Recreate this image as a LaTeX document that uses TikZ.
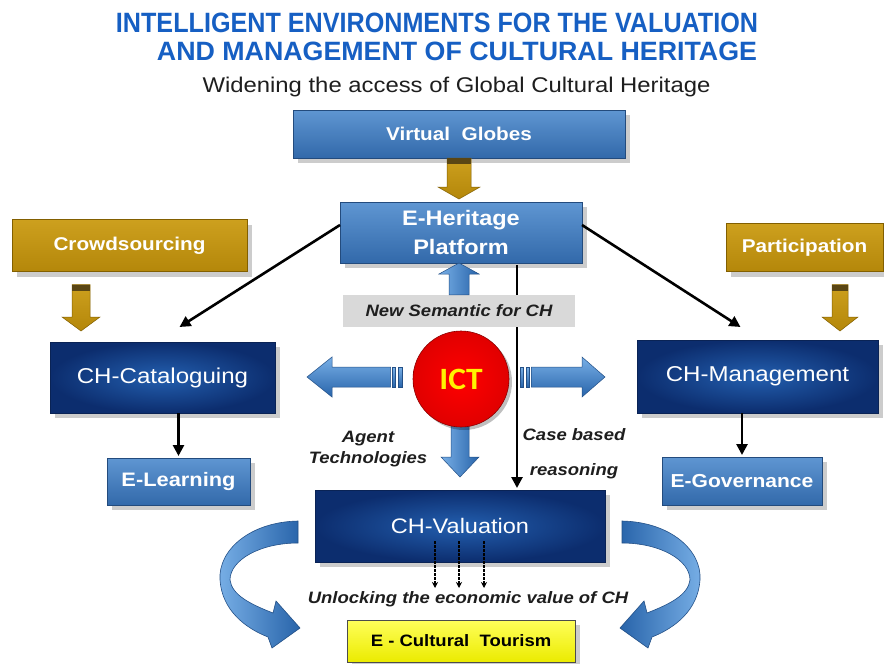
\documentclass[tikz,border=0pt]{standalone}
\usepackage{fontspec}
\usepackage{graphicx}
\setmainfont{Liberation Sans}[FakeStretch=1.12]
\newfontfamily\ictfont{Carlito}[FakeStretch=1.08]
\usetikzlibrary{shadows,calc,arrows.meta}
\definecolor{titleblue}{RGB}{22,95,195}
\definecolor{medtop}{RGB}{95,150,210}
\definecolor{medbot}{RGB}{50,105,170}
\definecolor{medline}{RGB}{35,75,125}
\definecolor{navyin}{RGB}{35,95,175}
\definecolor{navyout}{RGB}{12,45,110}
\definecolor{navyline}{RGB}{10,35,85}
\definecolor{goldtop}{RGB}{205,160,30}
\definecolor{goldbot}{RGB}{180,135,10}
\definecolor{goldline}{RGB}{130,95,0}
\definecolor{goldband}{RGB}{90,70,20}
\definecolor{blueA}{RGB}{120,175,230}
\definecolor{blueB}{RGB}{40,100,170}
\definecolor{blueline}{RGB}{35,80,135}
\definecolor{ytop}{RGB}{255,255,90}
\definecolor{ybot}{RGB}{235,235,0}
\definecolor{txtdark}{RGB}{30,30,30}
\pgfdeclarelayer{bgl}
\pgfdeclarelayer{back}
\pgfsetlayers{bgl,back,main}
\newcommand{\blockarrow}[6]{%
  \coordinate (bh) at ($(#3)!#6!(#2)$);
  \path[#1] ($(#2)!#4!90:(#3)$) -- ($(bh)!#4!90:(#3)$) -- ($(bh)!#5!90:(#3)$) -- (#3)
    -- ($(bh)!#5!-90:(#3)$) -- ($(bh)!#4!-90:(#3)$) -- ($(#2)!#4!-90:(#3)$) -- cycle;}
\newcommand{\arrowband}[4]{%
  \coordinate (bb) at ($(#2)!6pt!(#3)$);
  \path[#1] ($(#2)!#4!90:(#3)$) -- ($(bb)!#4!90:(#3)$) -- ($(bb)!#4!-90:(#3)$) -- ($(#2)!#4!-90:(#3)$) -- cycle;}
\tikzset{
  shad/.style={drop shadow={shadow xshift=5pt,shadow yshift=-5pt,opacity=0.2,fill=black}},
  boxbase/.style={rectangle, inner sep=0pt, outer sep=0pt, align=center, shad, line width=0.7pt},
  medbox/.style={boxbase, top color=medtop, bottom color=medbot, draw=medline, text=white},
  navybox/.style={boxbase, inner color=navyin, outer color=navyout, draw=navyline, text=white},
  goldbox/.style={boxbase, top color=goldtop, bottom color=goldbot, draw=goldline, text=white},
  conn/.style={draw=black, line width=2.6pt, -{Triangle[length=11pt,width=11pt]}},
  dotarrow/.style={draw=black, line width=1.1pt, dash pattern=on 2.5pt off 1.5pt, -{Stealth[length=6pt,width=6pt]}},
  goldarrow/.style={top color=goldtop, bottom color=goldbot, draw=goldline, line width=0.5pt},
  bandstyle/.style={fill=goldband},
  bluearrowh/.style={top color=blueA, bottom color=blueB, draw=blueline, line width=0.5pt},
  bluearrowv/.style={left color=blueA, right color=blueB, draw=blueline, line width=0.5pt},
  curvearrow/.style={draw=blueline, line width=0.6pt},
  lbl/.style={font=\bfseries\itshape\fontsize{16.5}{20}\selectfont, text=txtdark, inner sep=0pt, anchor=base}
}
\begin{document}
\begin{tikzpicture}[x=1pt,y=-1pt]
\useasboundingbox (0,0) rectangle (884,664);
\begin{pgfonlayer}{bgl}
\fill[white] (0,0) rectangle (884,664);
\end{pgfonlayer}

% titles
\node[inner sep=0pt, text=titleblue] (t1) at (437,22.5) {\resizebox{642pt}{19.5pt}{\bfseries INTELLIGENT ENVIRONMENTS FOR THE VALUATION}};
\node[inner sep=0pt, text=titleblue] (t2) at (457,51) {\resizebox{600pt}{18.5pt}{\bfseries AND MANAGEMENT OF CULTURAL HERITAGE}};
\node[inner sep=0pt, anchor=base, text=txtdark, font=\fontsize{21.3}{24}\selectfont] (sub) at (456.5,92) {Widening the access of Global Cultural Heritage};

% curved arrows
\path[curvearrow, left color=blueA, right color=blueB]
  (298,521) .. controls (250,522) and (218,550) .. (220,580)
  .. controls (222,610) and (245,628) .. (268,637) -- (272,648) -- (300,628) -- (276,601) -- (273,613)
  .. controls (250,604) and (232,595) .. (230,580)
  .. controls (230,560) and (260,543) .. (298,543) -- cycle;
\path[curvearrow, right color=blueA, left color=blueB]
  (622,521) .. controls (670,522) and (702,550) .. (700,580)
  .. controls (698,610) and (675,628) .. (652,637) -- (648,648) -- (620,628) -- (644,601) -- (647,613)
  .. controls (670,604) and (688,595) .. (690,580)
  .. controls (690,560) and (660,543) .. (622,543) -- cycle;

% boxes
\node[medbox, minimum width=332pt, minimum height=48pt, font=\fontsize{18.5}{20}\selectfont\bfseries] (vg) at (459,134) {Virtual\ \ Globes};
\node[medbox, minimum width=242pt, minimum height=61pt, font=\fontsize{21}{29}\selectfont\bfseries] (eh) at (461,232.5) {E-Heritage\\Platform};
\node[rectangle, inner sep=0pt, fill=black!15, minimum width=232pt, minimum height=32pt, text=txtdark, font=\fontsize{16.5}{18}\selectfont\bfseries\itshape] (ns) at (459,311) {New Semantic for CH};
\node[goldbox, minimum width=235pt, minimum height=52pt, font=\fontsize{18.5}{20}\selectfont\bfseries] (crowd) at (129.5,245.5) {Crowdsourcing};
\node[goldbox, minimum width=157pt, minimum height=48pt, font=\fontsize{18.5}{20}\selectfont\bfseries] (part) at (804.5,247.5) {Participation};
\node[navybox, minimum width=225pt, minimum height=71pt, font=\fontsize{21.5}{24}\selectfont] (cat) at (162.5,377.5) {CH-Cataloguing};
\node[navybox, minimum width=241pt, minimum height=73pt, font=\fontsize{21.5}{24}\selectfont] (mgmt) at (757.5,376.5) {CH-Management};
\node[medbox, minimum width=143pt, minimum height=47pt, font=\fontsize{19.5}{22}\selectfont\bfseries] (learn) at (178.5,481.5) {E-Learning};
\node[medbox, minimum width=160pt, minimum height=48pt, font=\fontsize{18.8}{22}\selectfont\bfseries] (gov) at (742,481) {E-Governance};
\node[navybox, minimum width=290pt, minimum height=72pt, font=\fontsize{21}{24}\selectfont] (val) at (460,526) {CH-Valuation};
\node[boxbase, top color=ytop, bottom color=ybot, draw=black!70, minimum width=228pt, minimum height=42pt, text=black, font=\fontsize{16.5}{18}\selectfont\bfseries] (tour) at (461,641) {E - Cultural\ \ Tourism};

% ICT
\coordinate (dn1) at (460,425);
\coordinate (dn2) at ($(val.north)+(0,-13)$);
\blockarrow{bluearrowv}{dn1}{dn2}{9pt}{19pt}{20pt}
\node[circle, inner sep=0pt, minimum size=96pt, inner color=red!100, outer color=red!88!black, draw=red!55!black, line width=0.6pt, drop shadow={shadow xshift=3pt,shadow yshift=-3pt,opacity=0.25,fill=black}, text=yellow, font=\ictfont\bfseries\fontsize{31}{31}\selectfont] (ict) at (461,379) {ICT};

% connectors
\coordinate (lstart) at ($(eh.north west)+(0,23)$);
\coordinate (lend) at ($(cat.north)+(17,-15)$);
\coordinate (rstart) at ($(eh.north east)+(0,23)$);
\coordinate (rend) at ($(mgmt.north)+(-17,-13)$);
\draw[conn] (lstart) -- (lend);
\draw[conn] (rstart) -- (rend);
\draw[conn] (learn.north |- cat.south) -- ([yshift=2pt]learn.north);
\draw[conn] (gov.north |- mgmt.south) -- ([yshift=2pt]gov.north);
\coordinate (cbtop) at ($(eh.south east)+(-65,2)$);
\begin{pgfonlayer}{back}
\draw[conn, shorten >=2pt] (cbtop) -- (cbtop |- val.north);
\end{pgfonlayer}

% gold block arrows
\coordinate (va1) at (vg.south);
\coordinate (va2) at ($(vg.south |- eh.north)+(0,-3)$);
\blockarrow{goldarrow}{va1}{va2}{12pt}{21pt}{12pt}
\arrowband{bandstyle}{va1}{va2}{12pt}
\coordinate (ca1) at ($(crowd.south west)+(69,13)$);
\coordinate (ca2) at ($(cat.north west)+(31,-11)$);
\blockarrow{goldarrow}{ca1}{ca2}{9pt}{19pt}{14pt}
\arrowband{bandstyle}{ca1}{ca2}{9pt}
\coordinate (pa1) at ($(part.south west)+(114,13)$);
\coordinate (pa2) at ($(mgmt.north west)+(203,-9)$);
\blockarrow{goldarrow}{pa1}{pa2}{8pt}{18pt}{14pt}
\arrowband{bandstyle}{pa1}{pa2}{8pt}

% blue block arrows
\coordinate (ua1) at (ns.north);
\coordinate (ua2) at (ns.north |- eh.south);
\blockarrow{bluearrowv}{ua1}{ua2}{10pt}{20pt}{11pt}
\coordinate (la1) at ($(ict.west)+(-22,-2)$);
\coordinate (la2) at ($(cat.east)+(32,-0.5)$);
\blockarrow{bluearrowh}{la1}{la2}{10pt}{20pt}{25pt}
\path[bluearrowh] ($(la1)+(2,-10)$) rectangle ($(la1)+(5,10)$);
\path[bluearrowh] ($(la1)+(8,-10)$) rectangle ($(la1)+(12,10)$);
\coordinate (ra1) at ($(ict.east)+(22,-2)$);
\coordinate (ra2) at ($(mgmt.west)+(-32,0.5)$);
\blockarrow{bluearrowh}{ra1}{ra2}{10pt}{20pt}{23pt}
\path[bluearrowh] ($(ra1)+(-2,-10)$) rectangle ($(ra1)+(-5,10)$);
\path[bluearrowh] ($(ra1)+(-8,-10)$) rectangle ($(ra1)+(-11,10)$);

% dotted arrows
\coordinate (d1a) at (435,541);
\coordinate (d1b) at (435,588);
\coordinate (d2a) at (459,541);
\coordinate (d2b) at (459,588);
\coordinate (d3a) at (484,541);
\coordinate (d3b) at (484,588);
\draw[dotarrow] (d1a) -- (d1b);
\draw[dotarrow] (d2a) -- (d2b);
\draw[dotarrow] (d3a) -- (d3b);

% labels
\node[lbl] (agent1) at (368,442) {Agent};
\node[lbl] (agent2) at (368,463) {Technologies};
\node[lbl] (case1) at (574,440) {Case based};
\node[lbl] (case2) at (574,475) {reasoning};
\node[lbl] (unl) at (468,603) {Unlocking the economic value of CH};
\end{tikzpicture}
\end{document}
